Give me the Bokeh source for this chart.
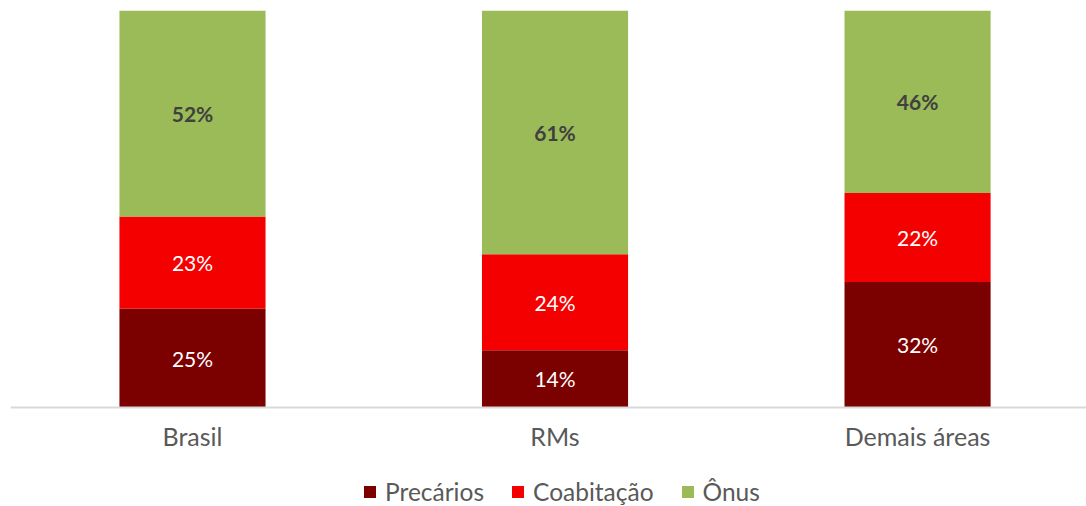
from bokeh.plotting import figure
from bokeh.models import ColumnDataSource, Range1d, FixedTicker, Legend, LegendItem
from bokeh.core.properties import value
from bokeh.embed import file_html
from bokeh.resources import INLINE

categories = ["Brasil", "RMs", "Demais áreas"]
series_labels = ["Precários", "Coabitação", "Ônus"]
precarios = [24.9, 14.4, 31.6]
coabitacao = [23.2, 24.2, 22.4]
onus = [51.9, 61.4, 46.0]
colors = ["#7B0000", "#F50000", "#9BBB59"]

FONT = "Lato"
keys = ["precarios", "coabitacao", "onus"]
xs = list(range(len(categories)))
src = ColumnDataSource(dict(x=xs, precarios=precarios, coabitacao=coabitacao, onus=onus))

p = figure(frame_width=1076, frame_height=496, output_backend="svg", toolbar_location=None,
           x_range=Range1d(-0.502, 2.466), y_range=Range1d(-24.94, 100),
           y_axis_location=None, min_border_left=10, min_border_right=0,
           min_border_top=10, min_border_bottom=0)
p.outline_line_color = None
p.xgrid.grid_line_color = None
p.ygrid.grid_line_color = None

renderers = p.vbar_stack(keys, x="x", width=0.403, color=colors, source=src, line_width=0)

# data labels
bottom = [0.0] * len(categories)
for k, vals in enumerate([precarios, coabitacao, onus]):
    mids = [b + v / 2 for b, v in zip(bottom, vals)]
    labels = [f"{v:.0f}%" for v in vals]
    lsrc = ColumnDataSource(dict(x=xs, y=mids, t=labels))
    if k == 2:
        p.text(x="x", y="y", text="t", source=lsrc, text_align="center", text_baseline="middle",
               text_font=value(FONT), text_font_size="21px", text_font_style="bold", text_color="#404040")
    else:
        p.text(x="x", y="y", text="t", source=lsrc, text_align="center", text_baseline="middle",
               text_font=value(FONT), text_font_size="21px", text_color="#FFFFFF")
    bottom = [b + v for b, v in zip(bottom, vals)]

ax = p.xaxis[0]
ax.fixed_location = 0
ax.ticker = FixedTicker(ticks=xs)
ax.major_label_overrides = {i: c for i, c in zip(xs, categories)}
ax.major_tick_line_color = None
ax.minor_tick_line_color = None
ax.axis_line_color = "#D9D9D9"
ax.axis_line_width = 2
ax.major_label_text_font = FONT
ax.major_label_text_font_size = "25px"
ax.major_label_text_color = "#595959"
ax.major_label_standoff = 8

legend = Legend(items=[LegendItem(label=l, renderers=[r]) for l, r in zip(series_labels, renderers)],
                orientation="horizontal", location=(352, 0),
                label_text_font=FONT, label_text_font_size="24.5px", label_text_color="#595959",
                glyph_width=15, glyph_height=15, label_standoff=8, spacing=26,
                border_line_color=None, background_fill_alpha=0, padding=0, margin=0)
p.add_layout(legend)

open("out.html", "w").write(file_html(p, INLINE))
